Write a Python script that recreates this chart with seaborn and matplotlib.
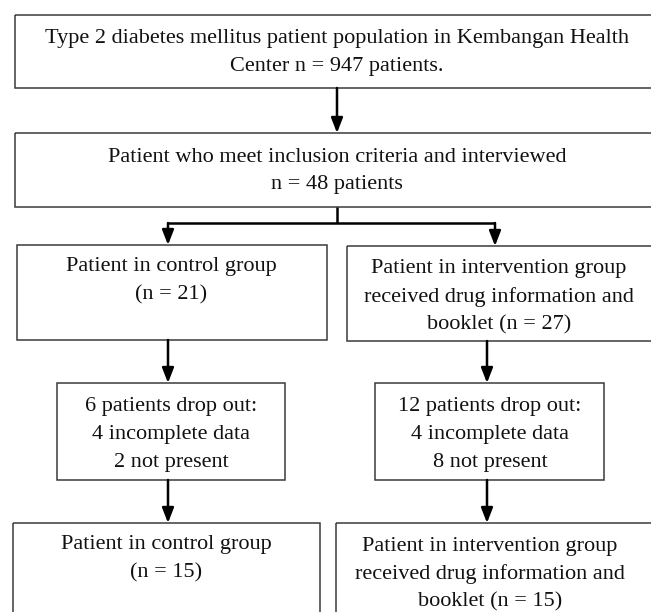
import matplotlib
matplotlib.use("Agg")
import matplotlib.pyplot as plt
import seaborn as sns
from matplotlib.patches import Rectangle

sns.set_style("white")
plt.rcParams['font.family'] = ['Liberation Serif', 'DejaVu Serif']

# texts of the flowchart boxes
population = ["Type 2 diabetes mellitus patient population in Kembangan Health",
              "Center n = 947 patients."]
included = ["Patient who meet inclusion criteria and interviewed",
            "n = 48 patients"]
control = ["Patient in control group", "(n = 21)"]
intervention = ["Patient in intervention group",
                "received drug information and",
                "booklet (n = 27)"]
control_drop = ["6 patients drop out:", "4 incomplete data", "2 not present"]
interv_drop = ["12 patients drop out:", "4 incomplete data", "8 not present"]
control_final = ["Patient in control group", "(n = 15)"]
interv_final = ["Patient in intervention group",
                "received drug information and",
                "booklet (n = 15)"]

# box layout: (x0, y0, x1, y1, text centre x, first line y)
boxes = [
    (population,    15, 15, 670, 88, 337, 38),
    (included,      15, 133, 670, 207, 337, 157),
    (control,       17, 245, 327, 340, 171, 267),
    (intervention,  347, 246, 670, 341, 499, 269),
    (control_drop,  57, 383, 285, 480, 171, 406),
    (interv_drop,   375, 383, 604, 480, 490, 406),
    (control_final, 13, 523, 320, 640, 166, 545),
    (interv_final,  336, 523, 670, 640, 490, 546),
]
line_step = 28

# arrows: (x, y_start, y_end)
arrows = [(337, 88, 133), (168, 223, 245), (495, 223, 246),
          (168, 340, 383), (487, 341, 383),
          (168, 480, 523), (487, 480, 523)]

fig = plt.figure(figsize=(6.51, 6.12), dpi=100)
ax = fig.add_axes([0, 0, 1, 1])
ax.set_xlim(0, 651)
ax.set_ylim(612, 0)
ax.axis('off')

for lines, x0, y0, x1, y1, tx, ty in boxes:
    ax.add_patch(Rectangle((x0, y0), x1 - x0, y1 - y0, fill=False,
                           edgecolor='#3a3a3a', linewidth=1.1))
    for i, s in enumerate(lines):
        ax.text(tx, ty + i * line_step, s, ha='center', va='center',
                fontsize=16, color='#111111')

# connector from box 2 to the two groups
ax.plot([337, 337], [207, 223], color='black', lw=1.8, solid_capstyle='butt')
ax.plot([168, 495], [223, 223], color='black', lw=1.8, solid_capstyle='butt')

for x, ys, ye in arrows:
    ax.annotate('', xy=(x, ye), xytext=(x, ys),
                arrowprops=dict(arrowstyle='-|>,head_length=0.9,head_width=0.35',
                                color='black', lw=1.8, shrinkA=0, shrinkB=0))

fig.savefig("out.png", dpi=100)
